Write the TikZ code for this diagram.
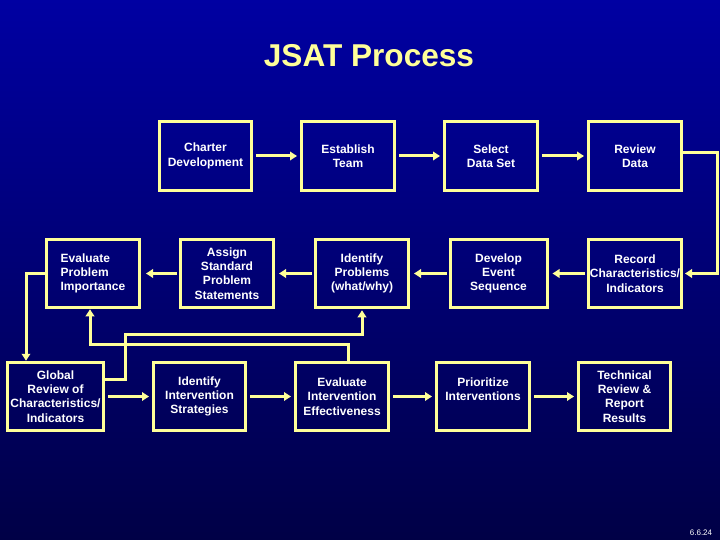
\documentclass[tikz,border=0pt]{standalone}
\usepackage{fontspec}
\setmainfont{Liberation Sans}
\usetikzlibrary{arrows.meta}
\definecolor{jsyellow}{RGB}{255,255,153}
\definecolor{bgtop}{RGB}{0,0,162}
\definecolor{bgbot}{RGB}{0,0,70}
\begin{document}
\begin{tikzpicture}[x=1pt,y=-1pt,
  box/.style={draw=jsyellow, line width=3pt, minimum width=93pt, minimum height=68.5pt,
    inner sep=0pt, text=white, align=center, font=\bfseries\fontsize{12}{14.3}\selectfont},
  conn/.style={draw=jsyellow, line width=3pt},
  tipend/.style={conn, -{Triangle[length=7pt,width=8.5pt]}},
  arr/.style={tipend, shorten <=3pt, shorten >=3pt}]
\shade[top color=bgtop, bottom color=bgbot] (0,0) rectangle (720,540);
\useasboundingbox (0,0) rectangle (720,540);

\node[text=jsyellow, font=\bfseries\fontsize{31.6}{36}\selectfont, anchor=base] (title) at (369,67) {JSAT Process};

% row 1
\node[box, minimum width=92pt] (CD) at (205.5,156) {Charter\\Development};
\node[box] (ET) at (348,156) {Establish\\Team};
\node[box] (SD) at (491,156) {Select\\Data Set};
\node[box] (RD) at (635,156) {Review\\Data};

% row 2
\node[box, align=left] (EP) at (93,273.5) {Evaluate\\Problem\\Importance};
\node[box] (AS) at (227,273.5) {Assign\\Standard\\Problem\\Statements};
\node[box] (IP) at (362,273.5) {Identify\\Problems\\(what/why)};
\node[box, minimum width=97pt] (DE) at (498.5,273.5) {Develop\\Event\\Sequence};
\node[box] (RC) at (635,273.5) {Record\\Characteristics/\\Indicators};

% row 3
\node[box, minimum width=96pt] (GR) at (55.5,396.5) {Global\\Review of\\Characteristics/\\Indicators};
\node[box, minimum width=92pt] (II) at (199.5,396.5) {Identify\\Intervention\\Strategies};
\node[box] (EE) at (342,396.5) {Evaluate\\Intervention\\Effectiveness};
\node[box] (PI) at (483,396.5) {Prioritize\\Interventions\\ \mbox{}};
\node[box, minimum width=92pt] (TR) at (624.5,396.5) {Technical\\Review \&\\Report\\Results};

\node[text=white, font=\fontsize{8}{9}\selectfont, anchor=base] (pg) at (701,535) {6.6.24};

% row 1 arrows
\draw[arr] (CD.east) -- (ET.west);
\draw[arr] (ET.east) -- (SD.west);
\draw[arr] (SD.east) -- (RD.west);

% review -> record
\coordinate (k1) at (717,153);
\draw[tipend, shorten >=2pt] (RD.east |- k1) -- (k1) -- (k1 |- RC.east) -- (RC.east);

% row 2 arrows
\draw[arr, shorten <=2pt, shorten >=4pt] (RC.west) -- (DE.east);
\draw[arr, shorten <=2pt, shorten >=4pt] (DE.west) -- (IP.east);
\draw[arr, shorten <=2pt, shorten >=4pt] (IP.west) -- (AS.east);
\draw[arr, shorten <=2pt, shorten >=5pt] (AS.west) -- (EP.east);

% evaluate problem importance -> global review
\coordinate (k2) at (26,273.5);
\draw[tipend] (EP.west) -- (k2) -- (k2 |- GR.north);

% global review -> identify problems
\coordinate (k3) at (125,379);
\coordinate (k4) at (125,334);
\draw[tipend, shorten >=1pt] (GR.east |- k3) -- (k3) -- (k4) -- (k4 -| IP.south) -- (IP.south);

% evaluate intervention effectiveness -> evaluate problem importance
\coordinate (k5) at (348,344);
\coordinate (k6) at (90,344);
\draw[tipend] (k5 |- EE.north) -- (k5) -- (k6) -- (k6 |- EP.south);

% row 3 arrows
\draw[arr] (GR.east) -- (II.west);
\draw[arr] (II.east) -- (EE.west);
\draw[arr] (EE.east) -- (PI.west);
\draw[arr] (PI.east) -- (TR.west);
\end{tikzpicture}
\end{document}
